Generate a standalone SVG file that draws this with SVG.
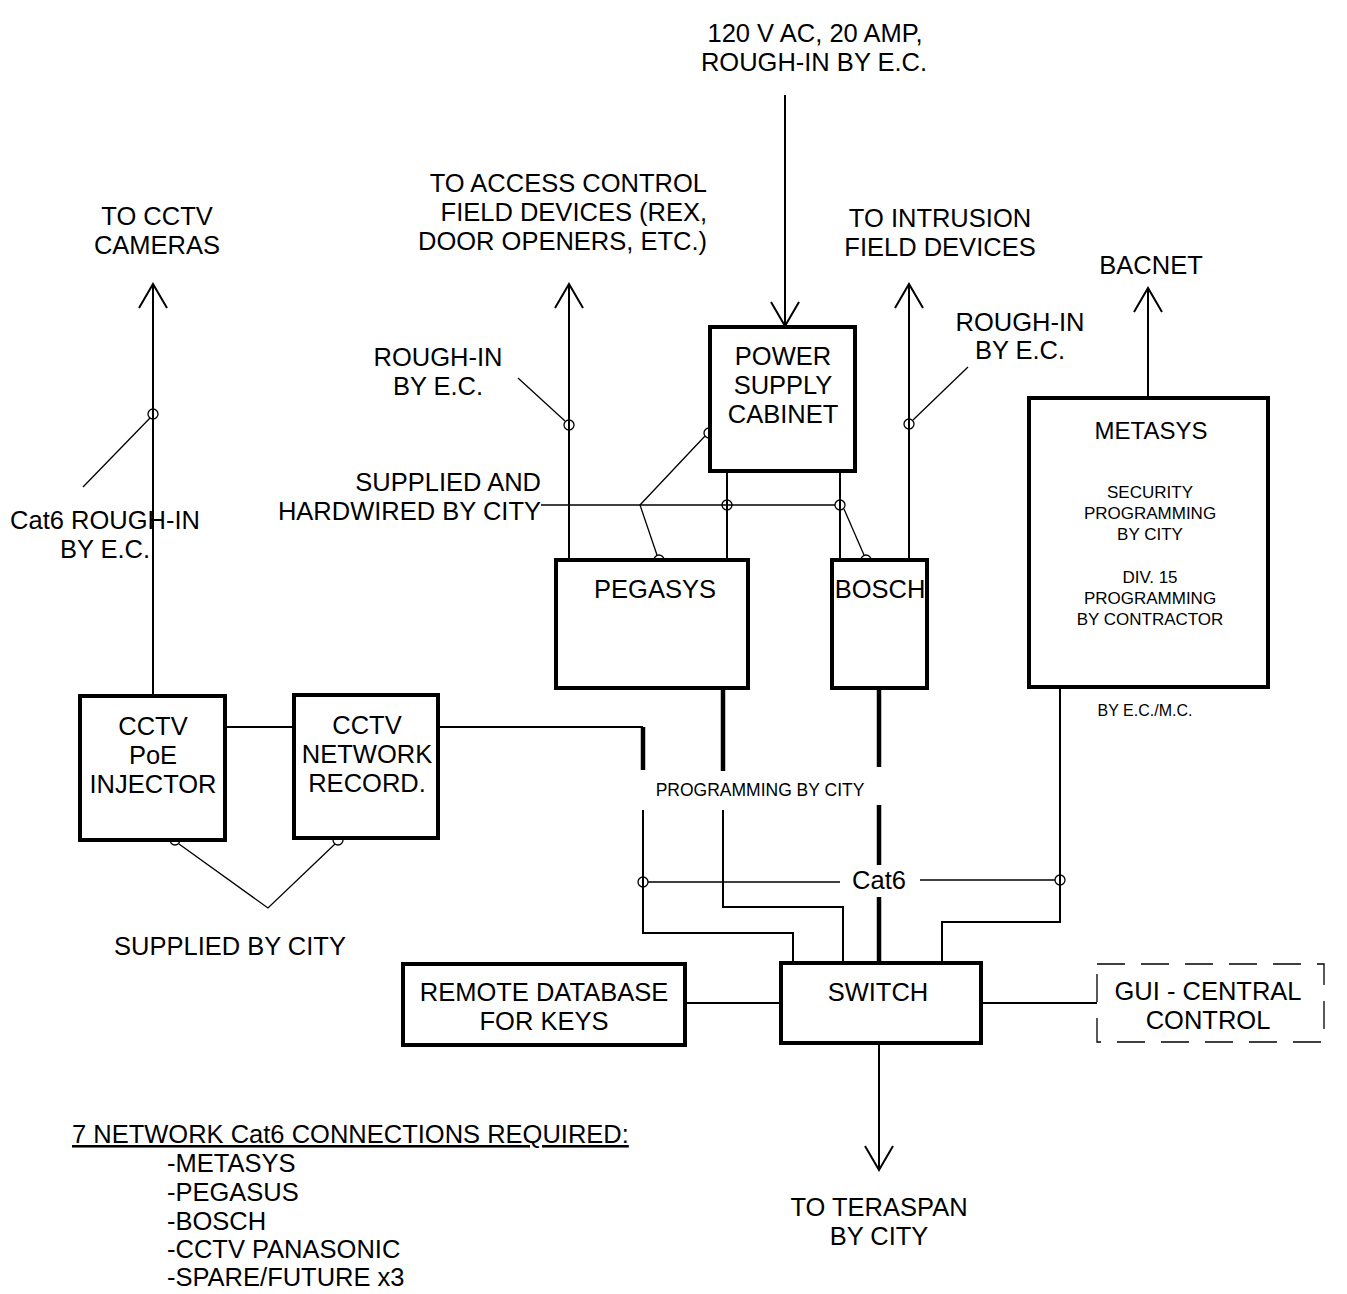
<svg xmlns="http://www.w3.org/2000/svg" width="1347" height="1294" viewBox="0 0 1347 1294">
<defs>
<marker id="arr" markerUnits="userSpaceOnUse" markerWidth="60" markerHeight="60" refX="0" refY="0" orient="auto" overflow="visible">
<path d="M -24 -14 L 0 0 L -24 14" fill="none" stroke="#000" stroke-width="2"/>
</marker>
</defs>
<style>
text{font-family:"Liberation Sans",Arial,sans-serif;fill:#000}
.t{font-size:25.5px}
.c{text-anchor:middle}
.e{text-anchor:end}
.s{font-size:17px}
.box{fill:#fff;stroke:#000;stroke-width:4}
.ln{fill:none;stroke:#000;stroke-width:2}
.thk{fill:none;stroke:#000;stroke-width:4.5}
.ld{fill:none;stroke:#000;stroke-width:1.3}
.dot{fill:none;stroke:#000;stroke-width:1.3}
</style>
<rect width="1347" height="1294" fill="#fff"/>

<g id="connectors">
<!-- arrows -->
<line class="ln" x1="785" y1="95" x2="785" y2="326" marker-end="url(#arr)"/>
<line class="ln" x1="153" y1="696" x2="153" y2="284" marker-end="url(#arr)"/>
<line class="ln" x1="569" y1="560" x2="569" y2="284" marker-end="url(#arr)"/>
<line class="ln" x1="909" y1="560" x2="909" y2="284" marker-end="url(#arr)"/>
<line class="ln" x1="1148" y1="398" x2="1148" y2="288" marker-end="url(#arr)"/>
<line class="ln" x1="879" y1="1043" x2="879" y2="1170" marker-end="url(#arr)"/>
<!-- power to pegasys / bosch -->
<line class="ln" x1="727" y1="471" x2="727" y2="560"/>
<line class="ln" x1="840" y1="471" x2="840" y2="560"/>
<!-- cctv -->
<line class="ln" x1="225" y1="727" x2="294" y2="727"/>
<polyline class="ln" points="438,727 643,727"/>
<line class="thk" x1="643" y1="727" x2="643" y2="770"/>
<polyline class="ln" points="643,810 643,933 793,933 793,963"/>
<!-- pegasys -->
<line class="thk" x1="723" y1="688" x2="723" y2="771"/>
<polyline class="ln" points="723,810 723,907 843,907 843,963"/>
<!-- bosch -->
<line class="thk" x1="879" y1="688" x2="879" y2="767"/>
<line class="thk" x1="879" y1="805" x2="879" y2="865"/>
<line class="thk" x1="879" y1="897" x2="879" y2="963"/>
<!-- metasys -->
<polyline class="ln" points="1060,687 1060,922 942,922 942,963"/>
<!-- cat6 line -->
<line class="ld" x1="648" y1="882" x2="840" y2="882"/>
<line class="ld" x1="920" y1="880" x2="1055" y2="880"/>
<!-- switch sides -->
<line class="ln" x1="685" y1="1003" x2="781" y2="1003"/>
<line class="ln" x1="981" y1="1003" x2="1097" y2="1003"/>
<!-- leaders -->
<line class="ld" x1="150" y1="418" x2="83" y2="487"/>
<line class="ld" x1="518" y1="378" x2="565" y2="421"/>
<line class="ld" x1="913" y1="420" x2="968" y2="367"/>
<line class="ld" x1="541" y1="505" x2="835" y2="505"/>
<polyline class="ld" points="705,436 640,505 657,555"/>
<line class="ld" x1="844" y1="509" x2="864" y2="555"/>
<polyline class="ld" points="179,844 268,908 335,844"/>
<!-- circles -->
<circle class="dot" cx="153" cy="414" r="5"/>
<circle class="dot" cx="569" cy="425" r="5"/>
<circle class="dot" cx="909" cy="424" r="5"/>
<circle class="dot" cx="709" cy="433" r="5"/>
<circle class="dot" cx="659" cy="560" r="5"/>
<circle class="dot" cx="727" cy="505" r="5"/>
<circle class="dot" cx="840" cy="505" r="5"/>
<circle class="dot" cx="866" cy="560" r="5"/>
<circle class="dot" cx="175" cy="840" r="5"/>
<circle class="dot" cx="338" cy="840" r="5"/>
<circle class="dot" cx="643" cy="882" r="5"/>
<circle class="dot" cx="1060" cy="880" r="5"/>
</g>

<g id="power">
<rect class="box" x="710" y="327" width="145" height="144"/>
<text class="t c" x="783" y="365">POWER</text>
<text class="t c" x="783" y="394">SUPPLY</text>
<text class="t c" x="783" y="423">CABINET</text>
</g>
<g id="pegasys">
<rect class="box" x="556" y="560" width="192" height="128"/>
<text class="t c" x="655" y="598">PEGASYS</text>
</g>
<g id="bosch">
<rect class="box" x="832" y="560" width="95" height="128"/>
<text class="t c" x="880" y="598">BOSCH</text>
</g>
<g id="metasys">
<rect class="box" x="1029" y="398" width="239" height="289"/>
<text class="c" style="font-size:24px" x="1151" y="439">METASYS</text>
<text class="s c" x="1150" y="498">SECURITY</text>
<text class="s c" x="1150" y="519">PROGRAMMING</text>
<text class="s c" x="1150" y="540">BY CITY</text>
<text class="s c" x="1150" y="583">DIV. 15</text>
<text class="s c" x="1150" y="604">PROGRAMMING</text>
<text class="s c" x="1150" y="625">BY CONTRACTOR</text>
</g>
<g id="injector">
<rect class="box" x="80" y="696" width="145" height="144"/>
<text class="t c" x="153" y="735">CCTV</text>
<text class="t c" x="153" y="764">PoE</text>
<text class="t c" x="153" y="793">INJECTOR</text>
</g>
<g id="recorder">
<rect class="box" x="294" y="695" width="144" height="143"/>
<text class="t c" x="367" y="734">CCTV</text>
<text class="t c" x="367" y="763">NETWORK</text>
<text class="t c" x="367" y="792">RECORD.</text>
</g>
<g id="switch">
<rect class="box" x="781" y="963" width="200" height="80"/>
<text class="t c" x="878" y="1001">SWITCH</text>
</g>
<g id="remote-db">
<rect class="box" x="403" y="964" width="282" height="81"/>
<text class="t c" x="544" y="1001">REMOTE DATABASE</text>
<text class="t c" x="544" y="1030">FOR KEYS</text>
</g>
<g id="gui">
<rect x="1097" y="964" width="227" height="78" fill="none" stroke="#000" stroke-width="1.3" stroke-dasharray="28,16"/>
<text class="t c" x="1208" y="1000">GUI - CENTRAL</text>
<text class="t c" x="1208" y="1029">CONTROL</text>
</g>

<g id="labels">
<text class="t c" x="815" y="42">120 V AC, 20 AMP,</text>
<text class="t c" x="814" y="71">ROUGH-IN BY E.C.</text>
<text class="t c" x="157" y="225">TO CCTV</text>
<text class="t c" x="157" y="254">CAMERAS</text>
<text class="t e" x="707" y="192">TO ACCESS CONTROL</text>
<text class="t e" x="707" y="221">FIELD DEVICES (REX,</text>
<text class="t e" x="707" y="250">DOOR OPENERS, ETC.)</text>
<text class="t c" x="940" y="227">TO INTRUSION</text>
<text class="t c" x="940" y="256">FIELD DEVICES</text>
<text class="t c" x="1151" y="274">BACNET</text>
<text class="t c" x="438" y="366">ROUGH-IN</text>
<text class="t c" x="438" y="395">BY E.C.</text>
<text class="t c" x="1020" y="331">ROUGH-IN</text>
<text class="t c" x="1020" y="359">BY E.C.</text>
<text class="t e" x="541" y="491">SUPPLIED AND</text>
<text class="t e" x="541" y="520">HARDWIRED BY CITY</text>
<text class="t c" x="105" y="529">Cat6 ROUGH-IN</text>
<text class="t c" x="105" y="558">BY E.C.</text>
<text class="c" style="font-size:17.5px" x="760" y="796">PROGRAMMING BY CITY</text>
<text class="t c" x="879" y="889">Cat6</text>
<text class="c" style="font-size:16px" x="1145" y="716">BY E.C./M.C.</text>
<text class="t c" x="230" y="955">SUPPLIED BY CITY</text>
<text class="t c" x="879" y="1216">TO TERASPAN</text>
<text class="t c" x="879" y="1245">BY CITY</text>
<text class="t" x="72" y="1143" text-decoration="underline">7 NETWORK Cat6 CONNECTIONS REQUIRED:</text>
<text class="t" x="167" y="1172">-METASYS</text>
<text class="t" x="167" y="1201">-PEGASUS</text>
<text class="t" x="167" y="1230">-BOSCH</text>
<text class="t" x="167" y="1258">-CCTV PANASONIC</text>
<text class="t" x="167" y="1286">-SPARE/FUTURE x3</text>
</g>
</svg>
